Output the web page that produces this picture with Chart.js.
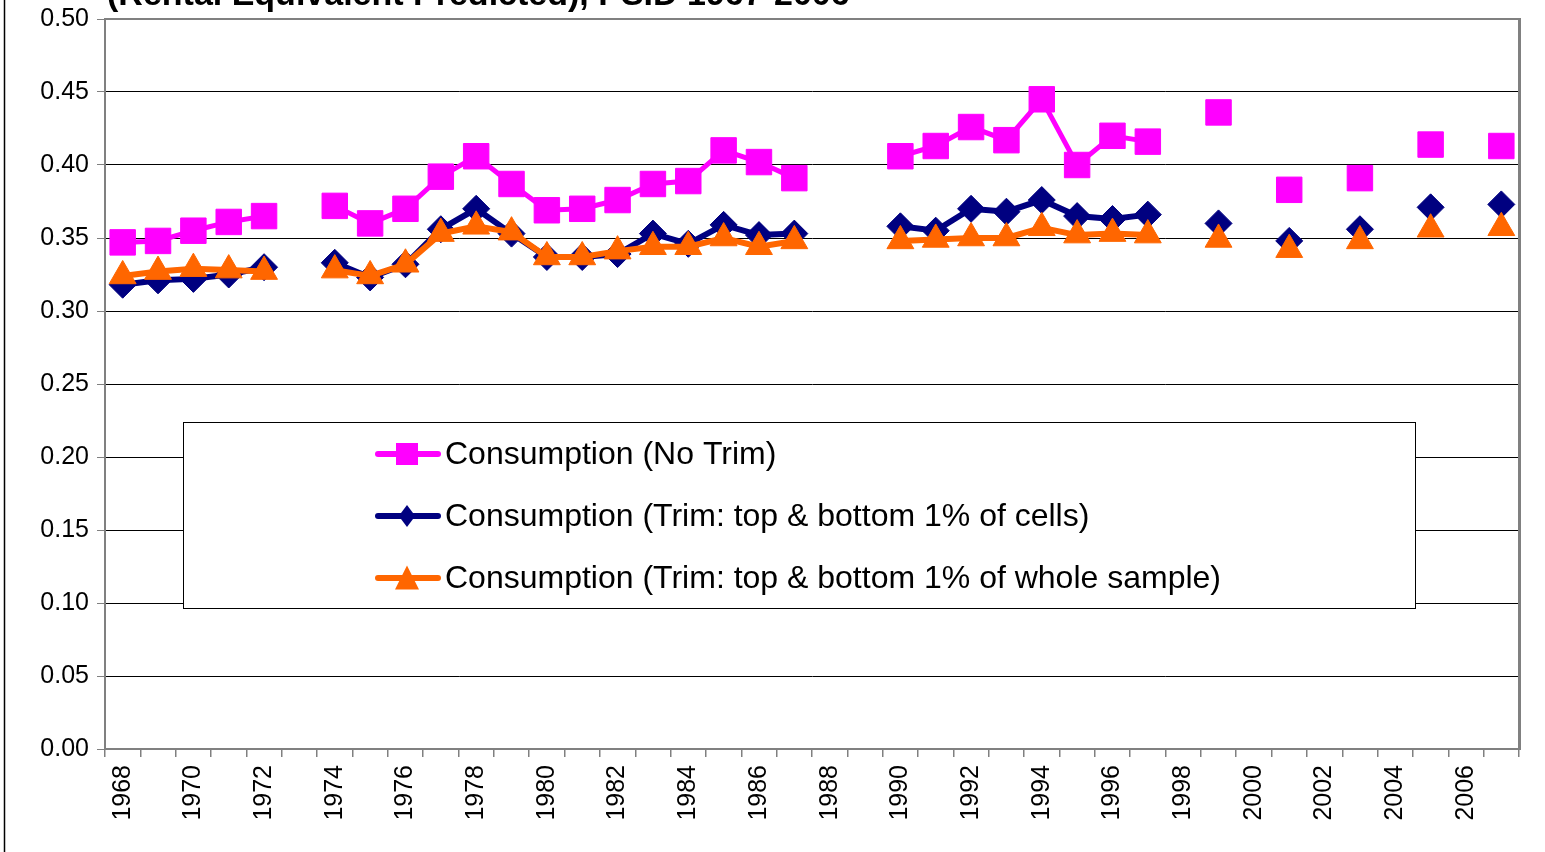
<!DOCTYPE html>
<html lang="en">
<head>
  <meta charset="utf-8">
  <title>Consumption, PSID 1967-2006</title>
  <script src="https://cdn.jsdelivr.net/npm/chart.js@4.4.1/dist/chart.umd.min.js"></script>
  <style>
    html, body { margin: 0; padding: 0; background: #fff; }
    #wrap { width: 1545px; height: 852px; position: relative; overflow: hidden; }
  </style>
</head>
<body>
  <div id="wrap"><canvas id="chart" width="1545" height="852"></canvas></div>
  <script>
    const years = ['1968','1969','1970','1971','1972','1973','1974','1975','1976','1977',
                   '1978','1979','1980','1981','1982','1983','1984','1985','1986','1987',
                   '1988','1989','1990','1991','1992','1993','1994','1995','1996','1997',
                   '1998','1999','2000','2001','2002','2003','2004','2005','2006','2007'];

    const noTrim = [0.347,0.348,0.355,0.361,0.365,null,0.372,0.360,0.370,0.392,
                    0.406,0.387,0.369,0.370,0.376,0.387,0.389,0.410,0.402,0.391,
                    null,null,0.406,0.413,0.426,0.417,0.445,0.400,0.420,0.416,
                    null,0.436,null,0.383,null,0.391,null,0.414,null,0.413];

    const trimCells = [0.318,0.321,0.322,0.325,0.330,null,0.333,0.323,0.332,0.356,
                       0.370,0.353,0.337,0.337,0.339,0.353,0.346,0.359,0.352,0.353,
                       null,null,0.358,0.355,0.370,0.368,0.376,0.365,0.363,0.366,
                       null,0.360,null,0.348,null,0.356,null,0.371,null,0.373];

    const trimWhole = [0.324,0.327,0.329,0.328,0.327,null,0.328,0.324,0.332,0.353,
                       0.358,0.354,0.337,0.337,0.341,0.344,0.344,0.350,0.344,0.348,
                       null,null,0.348,0.349,0.350,0.350,0.357,0.352,0.353,0.352,
                       null,0.349,null,0.342,null,0.348,null,0.356,null,0.357];

    const seriesNames = ['Consumption (No Trim)',
                         'Consumption (Trim: top & bottom 1% of cells)',
                         'Consumption (Trim: top & bottom 1% of whole sample)'];
    const titleText = '(Rental Equivalent Predicted), PSID 1967-2006';

    const PINK = '#FF00FF', NAVY = '#000080', ORANGE = '#FF6600';
    const FONT = 'Arial, "Liberation Sans", sans-serif';

    // legend marker shapes
    function marker(ctx, style, x, y, r, color) {
      ctx.save();
      ctx.fillStyle = color;
      ctx.beginPath();
      if (style === 'rect') {
        ctx.rect(x - r, y - r, 2 * r, 2 * r);
      } else if (style === 'rectRot') {
        ctx.moveTo(x, y - r); ctx.lineTo(x + r * 0.75, y);
        ctx.lineTo(x, y + r); ctx.lineTo(x - r * 0.75, y);
        ctx.closePath();
      } else {
        ctx.moveTo(x, y - r * 1.05); ctx.lineTo(x + r, y + r * 0.95);
        ctx.lineTo(x - r, y + r * 0.95); ctx.closePath();
      }
      ctx.fill();
      ctx.restore();
    }

    const framePlugin = {
      id: 'frame',
      beforeDraw(chart) {
        const ctx = chart.ctx;
        ctx.save();
        ctx.fillStyle = '#fff';
        ctx.fillRect(0, 0, chart.width, chart.height);
        ctx.restore();
      },
      beforeDatasetsDraw(chart) {
        const { ctx, chartArea: a } = chart;
        ctx.save();
        ctx.strokeStyle = '#808080';
        ctx.lineWidth = 2;
        ctx.strokeRect(a.left, a.top, a.right - a.left, a.bottom - a.top);
        ctx.lineWidth = 3;
        ctx.beginPath();
        ctx.moveTo(a.right + 0.5, a.top - 1);
        ctx.lineTo(a.right + 0.5, a.bottom + 1);
        ctx.stroke();
        ctx.restore();
      },
      afterDraw(chart) {
        const { ctx } = chart;
        ctx.save();
        // outer frame line on the left
        ctx.strokeStyle = '#000';
        ctx.lineWidth = 1.5;
        ctx.beginPath();
        ctx.moveTo(4.5, 0);
        ctx.lineTo(4.5, chart.height);
        ctx.stroke();

        // title (mostly cut off at the top)
        ctx.fillStyle = '#000';
        ctx.font = 'bold 34px ' + FONT;
        ctx.textBaseline = 'alphabetic';
        ctx.textAlign = 'left';
        ctx.fillText(titleText, 107, 5);

        // legend box
        const bx = 183, by = 422, bw = 1232, bh = 186;
        ctx.fillStyle = '#fff';
        ctx.fillRect(bx, by, bw, bh);
        ctx.strokeStyle = '#000';
        ctx.lineWidth = 1;
        ctx.strokeRect(bx + 0.5, by + 0.5, bw, bh);

        const items = [
          { color: PINK, style: 'rect', r: 11 },
          { color: NAVY, style: 'rectRot', r: 11 },
          { color: ORANGE, style: 'triangle', r: 12 }
        ];
        ctx.font = '32px ' + FONT;
        ctx.textBaseline = 'middle';
        items.forEach((it, i) => {
          const y = 454 + i * 62;
          ctx.strokeStyle = it.color;
          ctx.lineWidth = 6;
          ctx.lineCap = 'round';
          ctx.beginPath();
          ctx.moveTo(378, y);
          ctx.lineTo(438, y);
          ctx.stroke();
          marker(ctx, it.style, 407, y, it.r, it.color);
          ctx.fillStyle = '#000';
          ctx.fillText(seriesNames[i], 445, y + 1);
        });
        ctx.restore();
      }
    };

    function series(label, data, color, style, radius, width, order) {
      return {
        label, data, order,
        borderColor: color,
        backgroundColor: color,
        borderWidth: width,
        pointStyle: style,
        pointRadius: radius,
        pointHoverRadius: radius,
        pointBorderWidth: 1,
        pointBorderColor: color,
        pointBackgroundColor: color,
        spanGaps: false,
        tension: 0
      };
    }

    new Chart(document.getElementById('chart'), {
      type: 'line',
      data: {
        labels: years,
        datasets: [
          series(seriesNames[0], noTrim, PINK, 'rect', 18, 5, 2),
          series(seriesNames[1], trimCells, NAVY, 'rectRot', 13.5, 6, 1),
          series(seriesNames[2], trimWhole, ORANGE, 'triangle', 15.5, 6, 0)
        ]
      },
      options: {
        responsive: false,
        animation: false,
        devicePixelRatio: 1,
        layout: { padding: { top: 17, right: 26, left: 0, bottom: 0 } },
        plugins: {
          legend: { display: false },
          title: { display: false },
          tooltip: { enabled: false }
        },
        scales: {
          x: {
            type: 'category',
            offset: true,
            afterFit(scale) { scale.height = 103; scale.paddingLeft = 0; scale.paddingRight = 0; },
            grid: {
              offset: true,
              drawOnChartArea: false,
              drawTicks: true,
              tickLength: 8,
              color: '#808080',
              lineWidth: 1.5
            },
            border: { display: true, color: '#808080', width: 2 },
            ticks: {
              autoSkip: false,
              minRotation: 90,
              maxRotation: 90,
              padding: 8,
              color: '#000',
              font: { family: FONT, size: 25 },
              callback: (v, i) => (i % 2 === 0 ? years[i] : '')
            }
          },
          y: {
            min: 0,
            max: 0.5,
            afterFit(scale) { scale.width = 105; scale.paddingTop = 0; scale.paddingBottom = 0; },
            grid: {
              color: c => (c.tick.value === 0 || c.tick.value === 0.5 ? '#808080' : '#000'),
              lineWidth: 1,
              tickLength: 8,
              tickColor: '#808080'
            },
            border: { display: true, color: '#808080', width: 2 },
            ticks: {
              stepSize: 0.05,
              padding: 8,
              color: '#000',
              font: { family: FONT, size: 25 },
              callback: v => v.toFixed(2)
            }
          }
        }
      },
      plugins: [framePlugin]
    });
  </script>
</body>
</html>
